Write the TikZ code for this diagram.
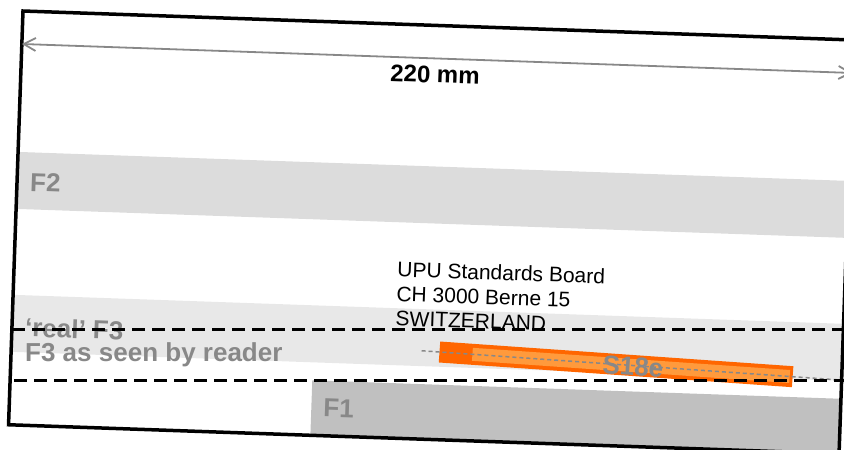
\documentclass[tikz,border=0pt]{standalone}
\usepackage{fontspec}
\setmainfont{Liberation Sans}
\usetikzlibrary{arrows.meta}

\definecolor{labelgray}{HTML}{888888}
\definecolor{ftwo}{HTML}{DCDCDC}
\definecolor{fthree}{HTML}{E8E8E8}
\definecolor{fone}{HTML}{C0C0C0}
\definecolor{barout}{HTML}{FF6600}
\definecolor{barin}{HTML}{FF9A3C}

\begin{document}
\begin{tikzpicture}
        [
        x=1pt, y=-1pt,
        envelope/.style={draw=black,line width=3.5pt,line join=miter},
        dim/.style={draw=labelgray,line width=1.8pt,{Straight Barb[length=12pt,width=13pt]}-{Straight Barb[length=12pt,width=13pt]}},
        zone/.style={font=\bfseries\fontsize{26}{28}\selectfont,text=labelgray,inner sep=0pt},
        address/.style={font=\fontsize{21}{24.5}\selectfont,align=left,inner sep=0pt},
        reader/.style={draw=black,line width=3pt,dash pattern=on 13pt off 7pt},
        axis/.style={draw=labelgray,line width=1.5pt,dash pattern=on 4pt off 3pt}
        ]
    \useasboundingbox (0,0) rectangle (844,450);
    % envelope, slightly turned
    \begin{scope}[shift={(23,11)},rotate=-2,transform shape]
        \fill[ftwo] (0,141) rectangle (831,198);
        \fill[fthree] (0,284) rectangle (831,341);
        \fill[fone] (302,359) rectangle (831,414);
        \draw[envelope] (0,0) rectangle (831,414);
        \coordinate (left) at (0,33);
        \coordinate (right) at (831,33);
        \draw[dim] (left) -- (right);
        \node[font=\bfseries\fontsize{24}{26}\selectfont,inner sep=0pt] (width) at (414,49) {220 mm};
        \node[zone,anchor=west] (f2) at (13,171) {F2};
        \node[zone,anchor=west] (realf3) at (13,316) {`real' F3};
        \node[zone,anchor=west] (f1) at (314,386) {F1};
        \node[address,anchor=north west] (addr) at (383,237) {UPU Standards Board\\CH 3000 Berne 15\\SWITZERLAND};
    \end{scope}
    % barcode, turned a bit more
    \begin{scope}[shift={(439.5,352)},rotate=-4,transform shape]
        \fill[barout] (0,-10.5) rectangle (354,10.5);
        \fill[barin] (33,-6.5) rectangle (351,6.5);
        \coordinate (start) at (-18,0);
        \coordinate (stop) at (403,0);
        \draw[axis] (start) -- (stop);
        \node[zone] (s18e) at (194,1) {S18e};
    \end{scope}
    % F3 as the reader sees it
    \coordinate (top1) at (12,329);
    \coordinate (top2) at (844,329);
    \coordinate (bot1) at (14,380);
    \coordinate (bot2) at (844,380);
    \draw[reader] (top1) -- (top2);
    \draw[reader] (bot1) -- (bot2);
    \node[zone,anchor=west] (seen) at (25,355) {F3 as seen by reader};
\end{tikzpicture}
\end{document}
